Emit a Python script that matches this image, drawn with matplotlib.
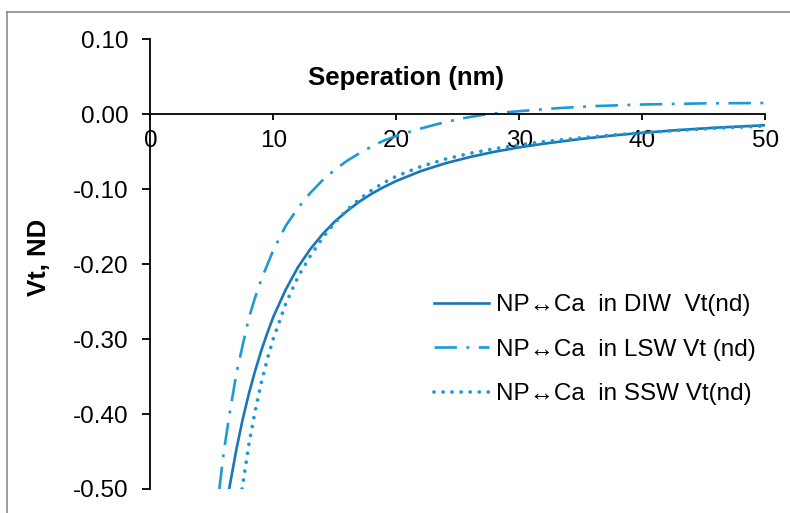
import matplotlib.pyplot as plt
from matplotlib.lines import Line2D

plt.rcParams['font.family'] = ['Liberation Sans', 'DejaVu Sans']

# separation (nm) and total interaction energy Vt (non-dimensional)
x_diw = [6.4, 7, 7.5, 8, 8.5, 9, 9.5, 10, 11, 12, 13, 14, 15, 16, 17, 18, 19, 20,
         22, 24, 26, 28, 30, 32, 35, 38, 40, 43, 46, 50]
vt_diw = [-0.500, -0.446, -0.407, -0.373, -0.343, -0.316, -0.292, -0.270, -0.234, -0.204,
          -0.180, -0.160, -0.143, -0.129, -0.1165, -0.106, -0.097, -0.089,
          -0.0758, -0.0654, -0.0570, -0.0500, -0.0442, -0.0393, -0.0330, -0.0277,
          -0.0248, -0.0210, -0.0179, -0.0147]

x_lsw = [5.6, 6, 6.5, 7, 7.5, 8, 8.5, 9, 10, 11, 12, 13, 14, 15, 16, 17, 18, 19, 20,
         21, 22, 23, 24, 25, 26, 27, 28, 29, 30, 33, 36, 40, 45, 50]
vt_lsw = [-0.500, -0.446, -0.393, -0.345, -0.308, -0.272, -0.245, -0.221, -0.181, -0.149,
          -0.125, -0.105, -0.088, -0.074, -0.062, -0.052, -0.043, -0.035, -0.029,
          -0.0238, -0.019, -0.0146, -0.0105, -0.0068, -0.0036, -0.0010, 0.0010, 0.0027,
          0.0041, 0.0080, 0.0108, 0.0130, 0.0145, 0.0150]

x_ssw = [7.45, 8, 8.5, 9, 9.5, 10, 11, 12, 13, 14, 15, 16, 17, 18, 19, 20,
         22, 24, 26, 28, 30, 32, 35, 38, 40, 43, 46, 50]
vt_ssw = [-0.500, -0.441, -0.397, -0.359, -0.327, -0.299, -0.253, -0.217, -0.189, -0.165,
          -0.1446, -0.1275, -0.1133, -0.1013, -0.0912, -0.0827,
          -0.0697, -0.0598, -0.0521, -0.0460, -0.0409, -0.0366, -0.0315, -0.0272,
          -0.0248, -0.0215, -0.0187, -0.0157]

labels = ['NP\u2194Ca  in DIW  Vt(nd)', 'NP\u2194Ca  in LSW Vt (nd)', 'NP\u2194Ca  in SSW Vt(nd)']
dark_blue = '#1a77b5'
light_blue = '#1c9ad8'

fig = plt.figure(figsize=(7.90, 5.13), dpi=100)
ax = fig.add_axes([0.1905, 0.0468, 0.778, 0.8766])

ax.plot(x_diw, vt_diw, color=dark_blue, lw=1.9, label=labels[0])
ax.plot(x_lsw, vt_lsw, color=light_blue, lw=1.9, linestyle=(0, (8.5, 3.6, 1.1, 3.6)),
        label=labels[1])
ax.plot(x_ssw, vt_ssw, color=light_blue, lw=2.7, linestyle=(0, (0.01, 2.4)),
        dash_capstyle='round', label=labels[2])

ax.set_xlim(0, 50)
ax.set_ylim(-0.5, 0.1)
ax.set_xticks([0, 10, 20, 30, 40, 50])
ax.set_yticks([0.1, 0.0, -0.1, -0.2, -0.3, -0.4, -0.5])
ax.set_yticklabels([f'{v:.2f}' for v in [0.1, 0.0, -0.1, -0.2, -0.3, -0.4, -0.5]])

for s in ['top', 'right']:
    ax.spines[s].set_visible(False)
ax.spines['bottom'].set_position(('data', 0))
ax.spines['left'].set_linewidth(1.3)
ax.spines['bottom'].set_linewidth(1.3)
ax.tick_params(axis='y', direction='out', length=6, width=1.3, pad=10, labelsize=17.5)
ax.tick_params(axis='x', direction='out', length=4.5, width=1.3, pad=7, labelsize=17.5)

ax.set_xlabel('Seperation (nm)', fontsize=18.5, fontweight='bold', va='center')
ax.xaxis.set_label_coords(0.415, 0.914)
ax.set_ylabel('Vt, ND', fontsize=18.5, fontweight='bold', va='center')
ax.yaxis.set_label_coords(-0.182, 0.516)

ax.legend(loc='upper left', bbox_to_anchor=(0.537, 0.445), bbox_transform=fig.transFigure,
          frameon=False, fontsize=17.5, handlelength=2.26, handletextpad=0.3,
          labelspacing=0.92, borderaxespad=0)

# chart area border (only top and left visible in the crop)
fig.add_artist(Line2D([7 / 790, 1], [1 - 12 / 513, 1 - 12 / 513], color='#8c8c8c', lw=1.2,
                      transform=fig.transFigure))
fig.add_artist(Line2D([7 / 790, 7 / 790], [0, 1 - 12 / 513], color='#8c8c8c', lw=1.2,
                      transform=fig.transFigure))

plt.savefig('out.png', dpi=100)
